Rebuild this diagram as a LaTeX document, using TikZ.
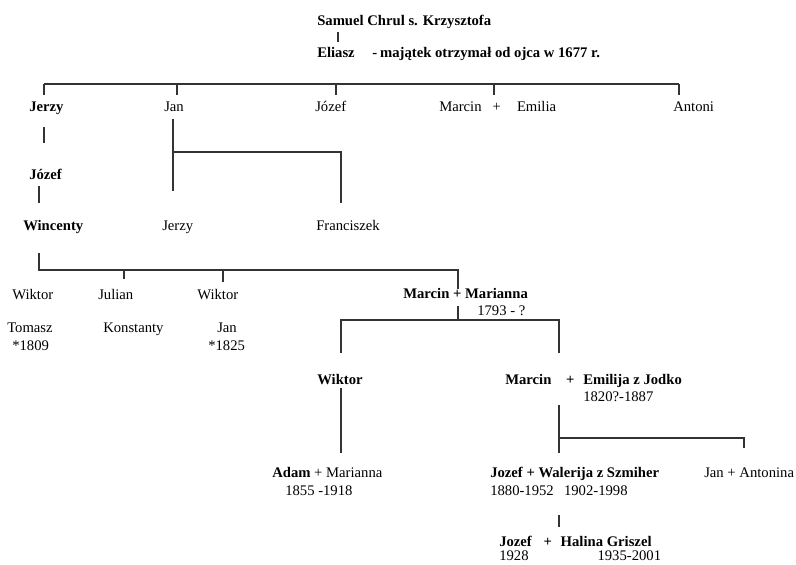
\documentclass[tikz,border=0pt]{standalone}
\usepackage{fontspec}
\setmainfont{Liberation Serif}
\tikzset{
  lead/.style={anchor=base west, inner sep=0pt, font=\fontsize{11}{13}\selectfont\bfseries},
  kin/.style={anchor=base west, inner sep=0pt, font=\fontsize{11}{13}\selectfont},
  link/.style={line width=1.2pt, draw=black!80},
}
\begin{document}
\begin{tikzpicture}[x=0.75pt, y=-0.75pt]
\useasboundingbox (0,0) rectangle (796,564);

\node[lead] (samuel) at (317,25) {Samuel Chrul s. Krzysztofa};
\node[lead] (eliasz) at (317,57) {Eliasz\hspace{1.2em}-\hspace{0.2em}majątek otrzymał od ojca w 1677 r.};

\node[lead] (jerzyA) at (29,111) {Jerzy};
\node[kin] (janA) at (164,111) {Jan};
\node[kin] (jozefA) at (315,111) {Józef};
\node[kin] (marcinA) at (439,111) {Marcin\hspace{0.75em}+\hspace{1.1em}Emilia};
\node[kin] (antoni) at (673,111) {Antoni};

\node[lead] (jozefB) at (29,179) {Józef};
\node[lead] (wincenty) at (23,230) {Wincenty};
\node[kin] (jerzyB) at (162,230) {Jerzy};
\node[kin] (franciszek) at (316,230) {Franciszek};

\node[kin] (wiktorA) at (12,299) {Wiktor};
\node[kin] (julian) at (98,299) {Julian};
\node[kin] (wiktorB) at (197,299) {Wiktor};
\node[lead] (marcinB) at (403,298) {Marcin + Marianna};
\node[kin] (years1793) at (477,315) {1793 - ?};
\node[kin] (tomasz) at (7,332) {Tomasz};
\node[kin] (born1809) at (12,350) {*1809};
\node[kin] (konstanty) at (103,332) {Konstanty};
\node[kin] (janB) at (217,332) {Jan};
\node[kin] (born1825) at (208,350) {*1825};

\node[lead] (wiktorC) at (317,384) {Wiktor};
\node[lead] (marcinC) at (505,384) {Marcin\hspace{1em}+\hspace{0.6em}Emilija z Jodko};
\node[kin] (years1820) at (583,401) {1820?-1887};

\node[kin] (adam) at (272,477) {\textbf{Adam} + Marianna};
\node[kin] (years1855) at (285,495) {1855 -1918};
\node[lead] (jozefC) at (490,477) {Jozef + Walerija z Szmiher};
\node[kin] (years1880) at (490,495) {1880-1952\hspace{0.7em}1902-1998};
\node[kin] (janC) at (704,477) {Jan + Antonina};
\node[lead] (jozefD) at (499,546) {Jozef\hspace{0.8em}+\hspace{0.6em}Halina Griszel};
\node[kin] (years1928) at (499,560) {1928\hspace{4.7em}1935-2001};

\coordinate (samuelTop) at (338,32);
\coordinate (samuelEnd) at (338,42);
\coordinate (eliaszL) at (44,84);
\coordinate (eliaszR) at (679,84);
\coordinate (jerzyTick) at (44,95);
\coordinate (janTick) at (177,95);
\coordinate (jozefTick) at (336,95);
\coordinate (marcinTick) at (494,95);
\coordinate (antoniTick) at (679,95);
\coordinate (jerzyTop) at (44,127);
\coordinate (jerzyEnd) at (44,143);
\coordinate (jozefTop) at (39,186);
\coordinate (jozefEnd) at (39,203);
\coordinate (janTop) at (173,119);
\coordinate (janEnd) at (173,191);
\coordinate (janMid) at (173,152);
\coordinate (franEnd) at (341,203);
\coordinate (wincTop) at (39,253);
\coordinate (wincL) at (39,270);
\coordinate (wincR) at (458,270);
\coordinate (julianTick) at (124,279);
\coordinate (wiktorTick) at (223,282);
\coordinate (marcinUp) at (458,289);
\coordinate (marcinDown) at (458,306);
\coordinate (marcinMid) at (458,320);
\coordinate (marcinL) at (341,320);
\coordinate (marcinR) at (559,320);
\coordinate (wiktorEnd) at (341,353);
\coordinate (marcinEnd) at (559,353);
\coordinate (wiktorTop) at (341,388);
\coordinate (adamEnd) at (341,453);
\coordinate (emilTop) at (559,405);
\coordinate (emilMid) at (559,438);
\coordinate (jozefEndC) at (559,453);
\coordinate (janCorner) at (744,438);
\coordinate (janTickC) at (744,448);
\coordinate (jozefTopD) at (559,515);
\coordinate (jozefEndD) at (559,527);

\draw[link] (samuelTop) -- (samuelEnd);
\draw[link] (eliaszL) -- (eliaszR);
\draw[link] (eliaszL) -- (jerzyTick);
\draw[link] (janTick |- eliaszL) -- (janTick);
\draw[link] (jozefTick |- eliaszL) -- (jozefTick);
\draw[link] (marcinTick |- eliaszL) -- (marcinTick);
\draw[link] (eliaszR) -- (antoniTick);
\draw[link] (jerzyTop) -- (jerzyEnd);
\draw[link] (jozefTop) -- (jozefEnd);
\draw[link] (janTop) -- (janEnd);
\draw[link] (janMid) -| (franEnd);
\draw[link] (wincTop) -- (wincL) -- (wincR) -- (marcinUp);
\draw[link] (julianTick |- wincL) -- (julianTick);
\draw[link] (wiktorTick |- wincL) -- (wiktorTick);
\draw[link] (marcinDown) -- (marcinMid);
\draw[link] (wiktorEnd) -- (marcinL) -- (marcinR) -- (marcinEnd);
\draw[link] (wiktorTop) -- (adamEnd);
\draw[link] (emilTop) -- (jozefEndC);
\draw[link] (emilMid) -- (janCorner) -- (janTickC);
\draw[link] (jozefTopD) -- (jozefEndD);
\end{tikzpicture}
\end{document}
